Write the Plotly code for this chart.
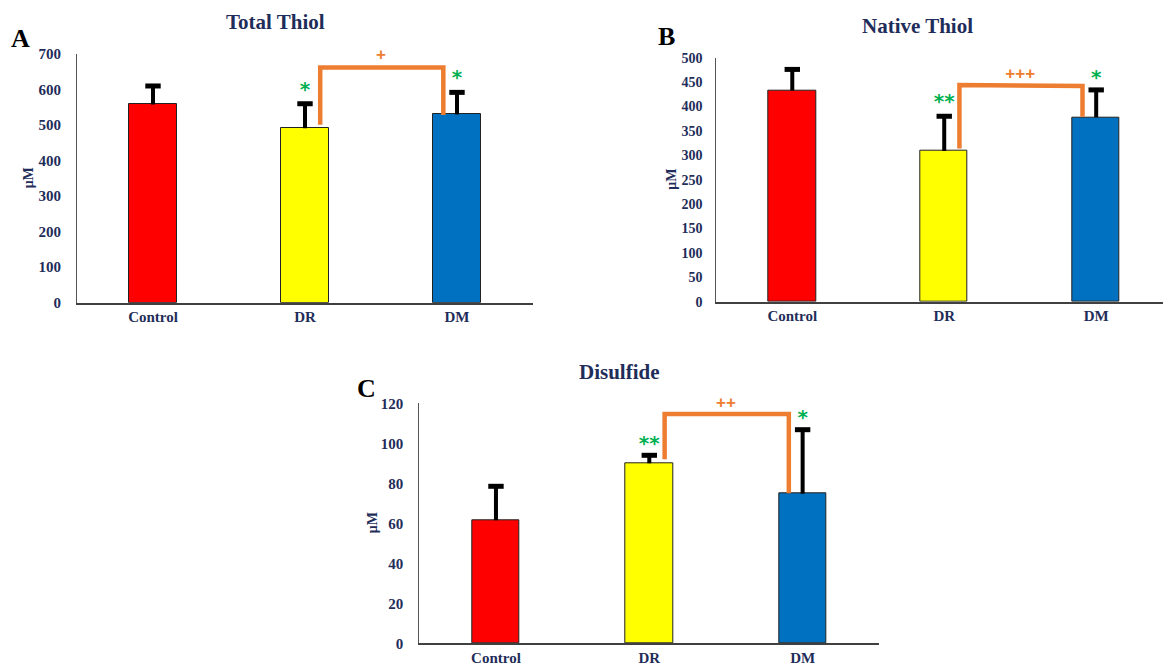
import plotly.graph_objects as go

categories = ["Control", "DR", "DM"]
bar_colors = ["#FF0000", "#FFFF00", "#0070C0"]

# Panel A: Total Thiol
total_vals = [558, 491, 530]
total_err = [52, 69, 62]
total_bracket = [501, 662, 662, 528]
total_plus_y = 695
total_star_y = [596, 630]
total_stars = ["*", "*"]

# Panel B: Native Thiol
native_vals = [433, 309, 378]
native_err = [43, 71, 56]
native_bracket = [314, 444, 442, 379]
native_plus_y = 465
native_star_y = [408, 456]
native_stars = ["**", "*"]

# Panel C: Disulfide
disulf_vals = [61.5, 90, 74.8]
disulf_err = [17, 4, 32]
disulf_bracket = [92, 114.6, 114.6, 75]
disulf_plus_y = 119.8
disulf_star_y = [99, 112]
disulf_stars = ["**", "*"]

W, H = 1171, 666
# page offset compensation (screen px -> paper fraction)
OX, OY, PH = 8, 16, 650


def fx(x):
    return (x - OX) / W


def fy(y):
    return 1 - (y - OY) / PH


panels = [
    dict(title="Total Thiol", letter="A", vals=total_vals, err=total_err, br=total_bracket,
         plus="+", plus_y=total_plus_y, star_y=total_star_y, stars=total_stars,
         ymax=700, dtick=100, xd=[fx(77), fx(533)], xr=[-0.5, 2.5], yd=[fy(302.7), fy(54)],
         title_xy=(275, 22), letter_xy=(20, 38), ylab_x=28, tfs=15, tso=12),
    dict(title="Native Thiol", letter="B", vals=native_vals, err=native_err, br=native_bracket,
         plus="+++", plus_y=native_plus_y, star_y=native_star_y, stars=native_stars,
         ymax=500, dtick=50, xd=[fx(716.3), 1.0], xr=[-0.5, 2.545], yd=[fy(301.7), fy(57.7)],
         title_xy=(917, 26), letter_xy=(666, 37), ylab_x=672, tfs=14, tso=10),
    dict(title="Disulfide", letter="C", vals=disulf_vals, err=disulf_err, br=disulf_bracket,
         plus="++", plus_y=disulf_plus_y, star_y=disulf_star_y, stars=disulf_stars,
         ymax=120, dtick=20, xd=[fx(419.3), fx(879.3)], xr=[-0.5, 2.5], yd=[fy(643.3), fy(403.3)],
         title_xy=(619, 372), letter_xy=(366, 388), ylab_x=372, tfs=15, tso=12),
]

navy = "#1F2D5A"
orange = "#ED7D31"
green = "#00B050"
serif = "Liberation Serif"

fig = go.Figure()
annotations = []

for i, p in enumerate(panels):
    sfx = "" if i == 0 else str(i + 1)
    xa, ya = "x" + sfx, "y" + sfx
    xs = list(range(len(categories)))
    fig.add_trace(go.Bar(
        x=xs, y=p["vals"], width=0.31, xaxis=xa, yaxis=ya,
        marker=dict(color=bar_colors, line=dict(color="#222222", width=1)),
        showlegend=False, hoverinfo="skip"))
    tops = [v + e for v, e in zip(p["vals"], p["err"])]
    # one-sided error bars: stem from bar top, cap only at the top
    fig.add_trace(go.Scatter(
        x=xs, y=tops, mode="markers", xaxis=xa, yaxis=ya,
        marker=dict(symbol="line-ew-open", size=11, color="black", line=dict(width=5, color="black")),
        error_y=dict(type="data", array=[0, 0, 0], arrayminus=p["err"], symmetric=False,
                     color="black", thickness=4, width=0),
        cliponaxis=False, showlegend=False, hoverinfo="skip"))
    br = p["br"]
    fig.add_trace(go.Scatter(
        x=[1 + 0.1, 1 + 0.1, 2 - 0.09, 2 - 0.09], y=br, mode="lines",
        line=dict(color=orange, width=4.5), xaxis=xa, yaxis=ya,
        showlegend=False, hoverinfo="skip"))
    fig.add_trace(go.Scatter(
        x=[1.5], y=[p["plus_y"]], mode="text", text=[p["plus"]], xaxis=xa, yaxis=ya,
        textfont=dict(color=orange, size=17, family="Liberation Sans", weight="bold"),
        textposition="middle center",
        cliponaxis=False, showlegend=False, hoverinfo="skip"))
    fig.add_trace(go.Scatter(
        x=[1, 2], y=p["star_y"], mode="text", text=p["stars"], xaxis=xa, yaxis=ya,
        textfont=dict(color=green, size=20, family="DejaVu Sans", weight="bold"),
        textposition="middle center",
        cliponaxis=False, showlegend=False, hoverinfo="skip"))
    fig.layout["xaxis" + sfx] = dict(
        domain=p["xd"], anchor=ya, range=p["xr"], tickvals=xs, ticktext=categories,
        showline=True, linecolor="#404040", linewidth=1.5, ticks="", showgrid=False,
        zeroline=False, tickfont=dict(family=serif, size=15, color=navy, weight="bold"),
        fixedrange=True)
    fig.layout["yaxis" + sfx] = dict(
        domain=p["yd"], anchor=xa, range=[0, p["ymax"]], dtick=p["dtick"],
        showline=True, linecolor="#555555", linewidth=1, ticks="", showgrid=False,
        zeroline=False, tickfont=dict(family=serif, size=p["tfs"], color=navy, weight="bold"),
        ticklabelstandoff=p["tso"], fixedrange=True)
    tx, ty = p["title_xy"]
    annotations.append(dict(x=fx(tx), y=fy(ty), xref="paper", yref="paper", text=p["title"],
                            showarrow=False, xanchor="center", yanchor="middle",
                            font=dict(family=serif, size=21, color=navy, weight="bold")))
    lx, ly = p["letter_xy"]
    annotations.append(dict(x=fx(lx), y=fy(ly), xref="paper", yref="paper", text=p["letter"],
                            showarrow=False, xanchor="center", yanchor="middle",
                            font=dict(family=serif, size=26, color="black", weight="bold")))
    ymid = (p["yd"][0] + p["yd"][1]) / 2
    annotations.append(dict(x=fx(p["ylab_x"]), y=ymid, xref="paper", yref="paper", text="μM",
                            showarrow=False, textangle=-90, xanchor="center", yanchor="middle",
                            font=dict(family=serif, size=14, color=navy, weight="bold")))

fig.update_layout(width=W, height=H, margin=dict(l=0, r=0, t=0, b=0),
                  plot_bgcolor="white", paper_bgcolor="white",
                  annotations=annotations, bargap=0)
fig.write_html("out.html")
